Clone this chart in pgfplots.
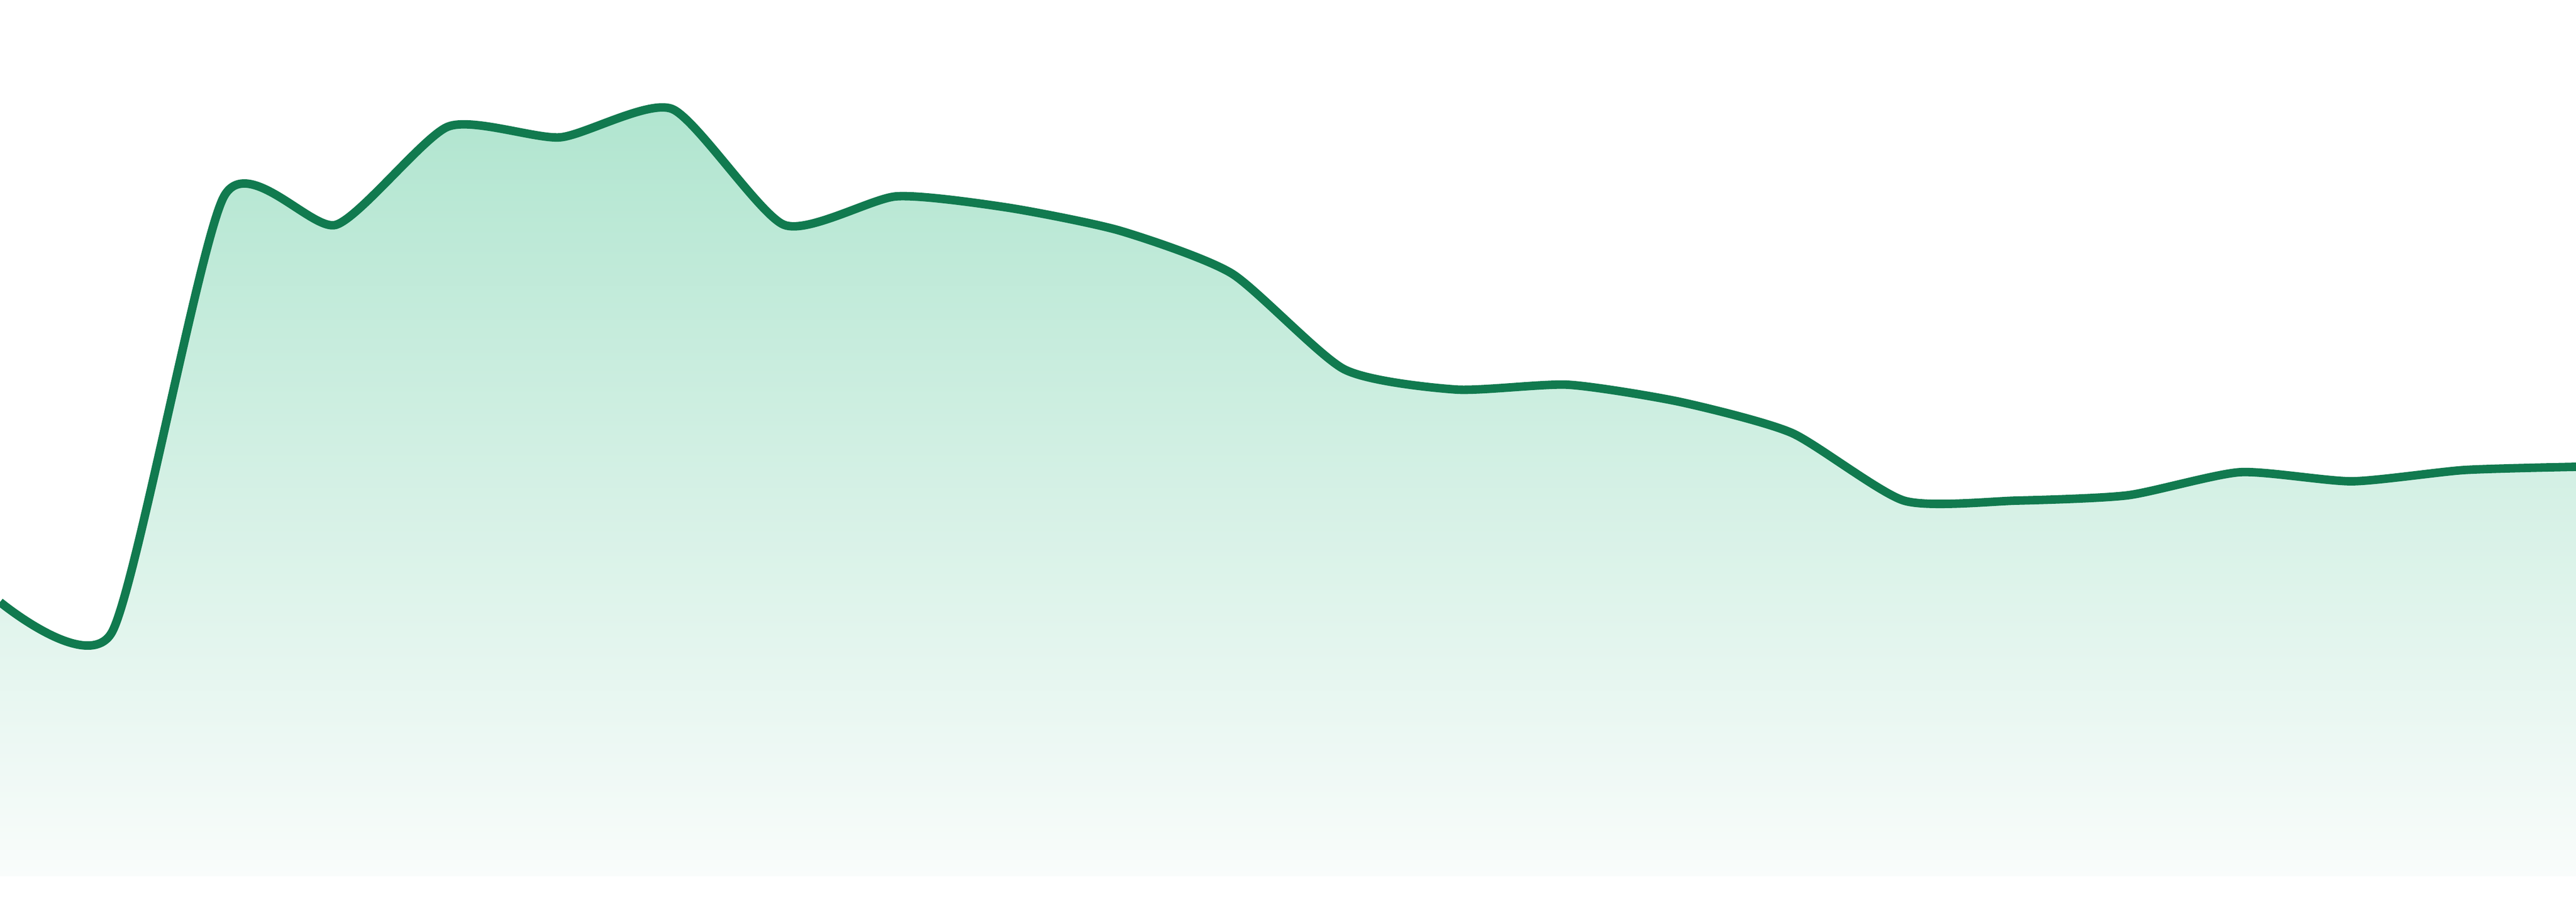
\documentclass[border=0pt]{standalone}
\usepackage{pgfplots}
\usepackage{pgfplotstable}
\pgfplotsset{compat=1.18}
\definecolor{lineC}{RGB}{17,122,79}
\definecolor{topC}{RGB}{176,229,207}
\definecolor{botC}{RGB}{249,252,251}
\pgfplotstableread{
x y
0 511
208.7 455
417.4 1267
626.1 1214
834.8 1397
1043.5 1377
1252.2 1430
1460.9 1214
1669.6 1267
1878.3 1246
2087.0 1203
2295.7 1123
2504.3 945
2713.0 907
2921.7 916
3130.4 884
3339.1 826
3547.8 700
3756.5 700
3965.2 710
4173.9 753
4382.6 736
4591.3 757
4800 763
}\data
\begin{document}
\begin{tikzpicture}
\begin{axis}[width=16cm, height=5.4433cm, scale only axis,
  xmin=0, xmax=4800, ymin=0, ymax=1633, hide axis, clip=true]
\addplot[draw=none, smooth, tension=0.38, top color=topC, bottom color=botC] table {\data} \closedcycle;
\addplot[lineC, line width=1.5pt, smooth, tension=0.38] table {\data};
\end{axis}
\pgfresetboundingbox
\path ([yshift=-0.15667cm]current axis.south west) rectangle (current axis.north east);
\end{tikzpicture}
\end{document}
